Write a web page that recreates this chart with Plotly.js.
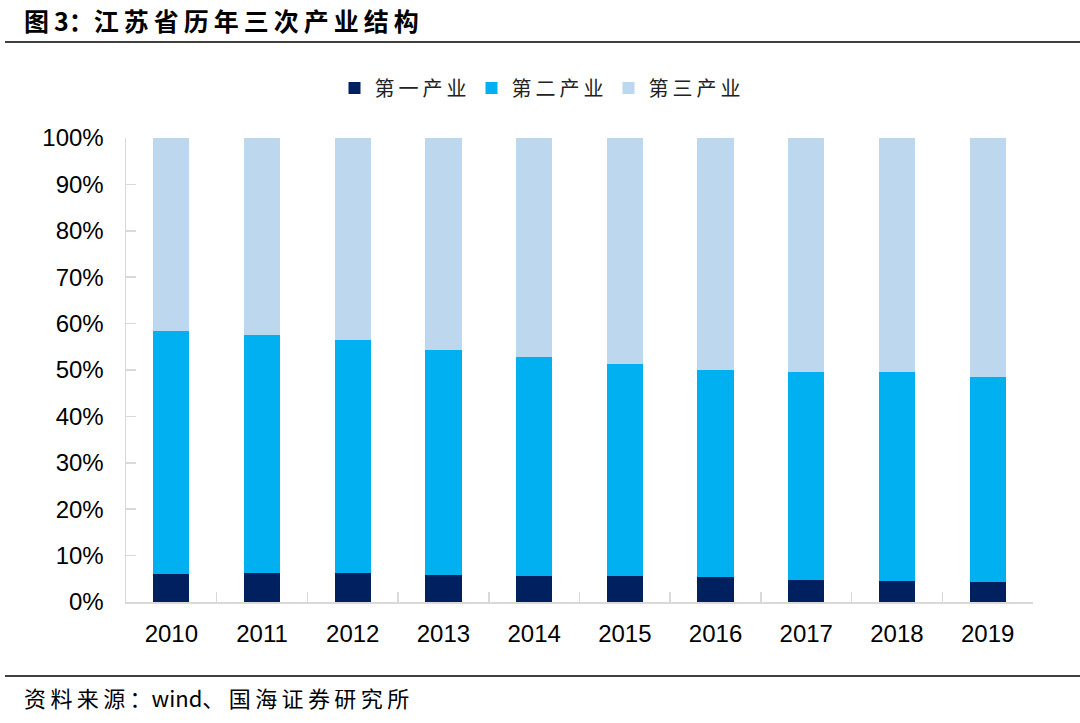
<!DOCTYPE html>
<html>
<head>
<meta charset="utf-8">
<script src="https://cdn.plot.ly/plotly-3.0.1.min.js"></script>
<style>html,body{margin:0;padding:0;background:#fff;}#chart{width:1080px;height:723px;}</style>
</head>
<body>
<div id="chart"></div>
<script>
const years = ['2010','2011','2012','2013','2014','2015','2016','2017','2018','2019'];
const primary = [6.1, 6.2, 6.3, 5.8, 5.6, 5.7, 5.3, 4.7, 4.5, 4.3];
const secondary = [52.4, 51.3, 50.2, 48.5, 47.3, 45.5, 44.6, 44.8, 45.0, 44.3];
const tertiary = [41.5, 42.5, 43.5, 45.7, 47.1, 48.8, 50.1, 50.5, 50.5, 51.4];
const names = ['第一产业', '第二产业', '第三产业'];
const colors = ['#002060', '#00B0F0', '#BDD7EE'];
const series = [primary, secondary, tertiary];

const sp = s => s.split('').join('\u2009');

const traces = series.map((s, i) => ({
  type: 'bar', x: years, y: s, name: sp(names[i]),
  marker: {color: colors[i], line: {width: 0}},
  width: 0.4, hoverinfo: 'skip'
}));

const L = 126, R = 1033, T = 138, B = 602;
const W = R - L, H = B - T;
const px = x => (x - L) / W;
const py = y => (B - y) / H;

const layout = {
  width: 1080, height: 723,
  margin: {l: L, r: 1080 - R, t: T, b: 723 - B, pad: 0},
  paper_bgcolor: '#fff', plot_bgcolor: '#fff',
  barmode: 'stack', bargap: 0.6,
  showlegend: true,
  legend: {orientation: 'h', x: px(540), xanchor: 'center', y: py(88), yanchor: 'middle',
    font: {family: 'Noto Sans CJK SC', size: 20, color: '#222'}, itemwidth: 30, traceorder: 'normal'},
  xaxis: {type: 'category', showline: true, linecolor: '#d9d9d9', linewidth: 1.5,
    ticks: 'inside', tickson: 'boundaries', ticklen: 10, tickcolor: '#d9d9d9', tickwidth: 1.5,
    tickfont: {family: 'Liberation Sans, Arial', size: 24, color: '#000'},
    showgrid: false, zeroline: false, ticklabelstandoff: 10, fixedrange: true},
  yaxis: {range: [0, 100], dtick: 10, ticksuffix: '%', showline: true, linecolor: '#d9d9d9', linewidth: 1.5,
    ticks: 'inside', ticklen: 10, tickcolor: '#d9d9d9', tickwidth: 1.5,
    tickfont: {family: 'Liberation Sans, Arial', size: 24, color: '#000'},
    showgrid: false, zeroline: false, ticklabelstandoff: 16, fixedrange: true},
  shapes: [
    {type: 'line', xref: 'paper', yref: 'paper', x0: px(5), x1: px(1080), y0: py(42), y1: py(42),
      line: {color: '#404040', width: 2}},
    {type: 'line', xref: 'paper', yref: 'paper', x0: px(5), x1: px(1080), y0: py(676), y1: py(676),
      line: {color: '#404040', width: 2}}
  ],
  annotations: [
    {xref: 'paper', yref: 'paper', x: px(22), y: py(20), xanchor: 'left', yanchor: 'middle', showarrow: false,
      text: '<b>图\u20093：' + sp('江苏省历年三次产业结构') + '</b>', font: {family: 'Noto Sans CJK SC', size: 25, color: '#000'}},
    {xref: 'paper', yref: 'paper', x: px(22), y: py(697), xanchor: 'left', yanchor: 'middle', showarrow: false,
      text: sp('资料来源：') + 'wind' + sp('、国海证券研究所'), font: {family: 'Noto Sans CJK SC', size: 22, color: '#000'}}
  ]
};

Plotly.newPlot('chart', traces, layout, {displayModeBar: false, staticPlot: true});
</script>
</body>
</html>
